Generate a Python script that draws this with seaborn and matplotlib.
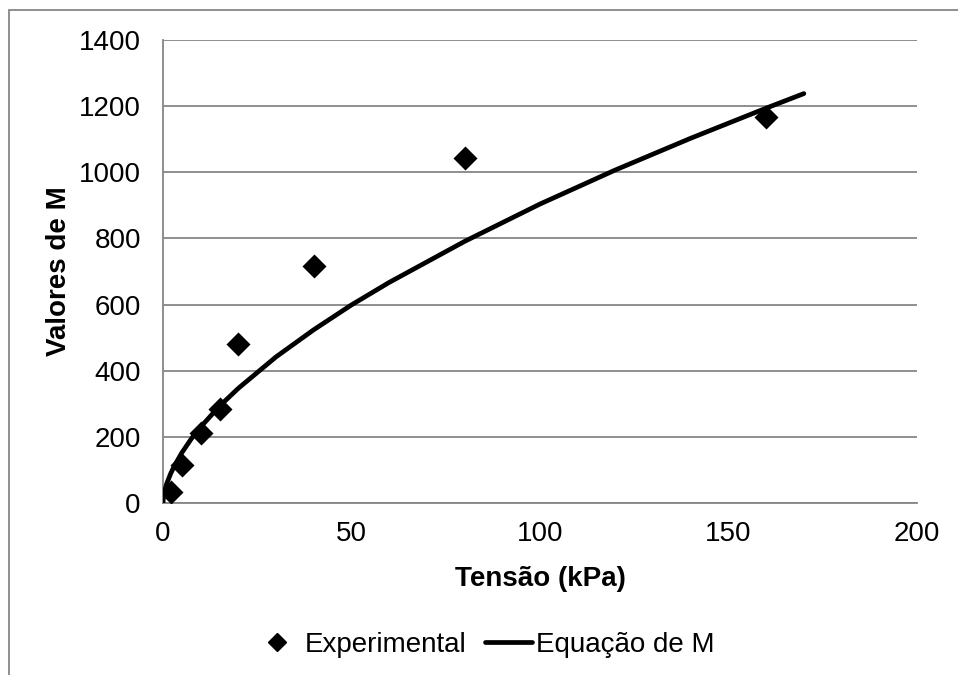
import matplotlib
matplotlib.use("Agg")
import matplotlib.pyplot as plt
import matplotlib.patches as mpatches
from matplotlib.lines import Line2D
import seaborn as sns
import pandas as pd

# Experimental points
tensao_exp = [2, 5, 10, 15, 20, 40, 80, 160]
m_exp = [32, 115, 213, 284, 480, 718, 1043, 1166]

# Points along the fitted M equation
tensao_eq = [0, 0.1, 0.25, 0.5, 1, 2, 3, 5, 7.5, 10, 15, 20, 30, 40, 50, 60,
             80, 100, 120, 140, 160, 170]
m_eq = [0, 15, 26, 39, 59, 88, 112, 152, 194, 230, 293, 347, 442, 524, 599,
        667, 791, 904, 1007, 1103, 1194, 1238]

x_ticks = [0, 50, 100, 150, 200]
y_ticks = [0, 200, 400, 600, 800, 1000, 1200, 1400]

sns.set_style("white")
plt.rcParams["font.family"] = ["Liberation Sans", "DejaVu Sans"]
plt.rcParams["text.color"] = "black"
plt.rcParams["axes.labelcolor"] = "black"

df_exp = pd.DataFrame({"Tensão": tensao_exp, "M": m_exp})
df_eq = pd.DataFrame({"Tensão": tensao_eq, "M": m_eq})

fs = 20

fig = plt.figure(figsize=(9.58, 6.75), dpi=100)
ax = fig.add_axes([163 / 958, 1 - 503 / 675, (917 - 163) / 958, (503 - 40) / 675])

grid_c = "#868686"
sns.lineplot(data=df_eq, x="Tensão", y="M", ax=ax, color="black", linewidth=3.4,
             solid_capstyle="round", zorder=3, sort=False)
sns.scatterplot(data=df_exp, x="Tensão", y="M", ax=ax, marker="D", s=150,
                color="black", edgecolor="black", linewidth=0, zorder=4)

ax.set_xlim(0, 200)
ax.set_ylim(0, 1400)
ax.set_xticks(x_ticks)
ax.set_yticks(y_ticks)
ax.set_xticklabels([str(v) for v in x_ticks])
ax.set_yticklabels([str(v) for v in y_ticks])
ax.tick_params(axis="both", length=0, labelsize=fs, colors="black")
ax.tick_params(axis="y", pad=16)
ax.tick_params(axis="x", pad=13)
ax.yaxis.grid(True, color=grid_c, linewidth=1.3)
ax.xaxis.grid(False)
ax.set_axisbelow(True)
for side in ["top", "right"]:
    ax.spines[side].set_visible(False)
for side in ["left", "bottom"]:
    ax.spines[side].set_color(grid_c)
    ax.spines[side].set_linewidth(1.3)

ax.set_xlabel("Tensão (kPa)", fontsize=fs, fontweight="bold", labelpad=14,
              color="black")
ax.set_ylabel("Valores de M", fontsize=fs, fontweight="bold", labelpad=5,
              color="black")

handles = [
    Line2D([], [], marker="D", color="black", linestyle="none", markersize=9),
    Line2D([], [], color="black", linewidth=3.4),
]
fig.legend(handles, ["Experimental", "Equação de M"], loc="center",
           bbox_to_anchor=(484 / 958, 1 - 645 / 675), ncol=2, frameon=False,
           fontsize=fs, handlelength=1.7, handletextpad=0.15, columnspacing=0.65,
           labelcolor="black")

# Outer chart frame
frame = mpatches.Rectangle((9 / 958, -0.05), 1.1, 1 - 10 / 675 + 0.05,
                           transform=fig.transFigure, fill=False,
                           edgecolor=grid_c, linewidth=1.3)
fig.patches.append(frame)

fig.savefig("out.png", dpi=100)
